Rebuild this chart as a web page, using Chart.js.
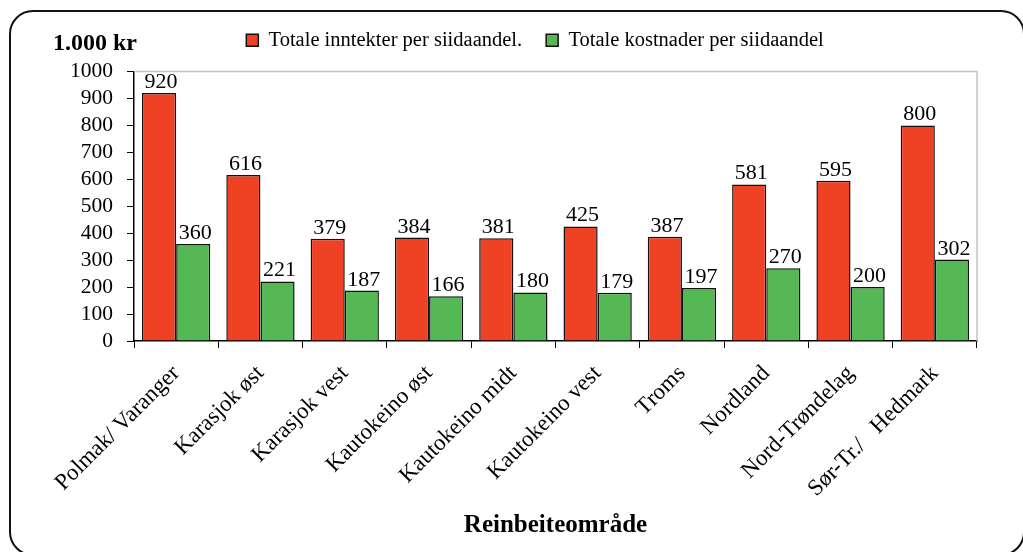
<!DOCTYPE html>
<html>
<head>
<meta charset="utf-8">
<script src="https://cdn.jsdelivr.net/npm/chart.js@4.4.1/dist/chart.umd.min.js"></script>
<style>
  html, body { margin: 0; padding: 0; background: #ffffff; overflow: hidden; }
  #wrap { position: relative; width: 1023px; height: 552px; overflow: hidden; }
  #frame { position: absolute; left: 9px; top: 10px; width: 1016px; height: 546px;
           border: 2px solid #111; border-radius: 24px; box-sizing: border-box; }
  canvas { position: absolute; left: 0; top: 0; }
</style>
</head>
<body>
<div id="wrap">
  <div id="frame"></div>
  <canvas id="c" width="1023" height="552"></canvas>
</div>
<script>
const categories = ["Polmak/ Varanger", "Karasjok øst", "Karasjok vest", "Kautokeino øst", "Kautokeino midt",
                    "Kautokeino vest", "Troms", "Nordland", "Nord-Trøndelag", "Sør-Tr./   Hedmark"];
const incomeValues = [920, 616, 379, 384, 381, 425, 387, 581, 595, 800];
const costValues = [360, 221, 187, 166, 180, 179, 197, 270, 200, 302];
const seriesNames = ["Totale inntekter per siidaandel.", "Totale kostnader per siidaandel"];
const yTickValues = [0, 100, 200, 300, 400, 500, 600, 700, 800, 900, 1000];
const yTickLabels = ["0", "100", "200", "300", "400", "500", "600", "700", "800", "900", "1000"];
const yUnitLabel = "1.000 kr";
const xAxisTitle = "Reinbeiteområde";

const FONT = "'Liberation Serif', 'Times New Roman', serif";

const plotFrame = {
  id: 'plotFrame',
  beforeDatasetsDraw(chart) {
    const {ctx, chartArea: a} = chart;
    ctx.save();
    ctx.strokeStyle = '#c4c4c4';
    ctx.lineWidth = 1.5;
    ctx.beginPath();
    ctx.moveTo(a.left, a.top);
    ctx.lineTo(a.right, a.top);
    ctx.lineTo(a.right, a.bottom);
    ctx.stroke();
    ctx.restore();
  }
};

const valueLabels = {
  id: 'valueLabels',
  afterDatasetsDraw(chart) {
    const ctx = chart.ctx;
    ctx.save();
    ctx.font = "22px " + FONT;
    ctx.fillStyle = '#000';
    ctx.textAlign = 'center';
    ctx.textBaseline = 'alphabetic';
    chart.data.datasets.forEach((ds, i) => {
      const meta = chart.getDatasetMeta(i);
      meta.data.forEach((bar, j) => {
        ctx.fillText(String(ds.data[j]), bar.x + 2, bar.y - 5);
      });
    });
    ctx.restore();
  }
};

const unitLabel = {
  id: 'unitLabel',
  afterDraw(chart) {
    const ctx = chart.ctx;
    ctx.save();
    ctx.font = "bold 24px " + FONT;
    ctx.fillStyle = '#000';
    ctx.textAlign = 'left';
    ctx.textBaseline = 'alphabetic';
    ctx.fillText(yUnitLabel, 53, 50);
    ctx.restore();
  }
};

const legendPlacer = {
  id: 'legendPlacer',
  afterLayout(chart) {
    const lg = chart.legend;
    if (!lg) return;
    const dx = 535 - (lg.left + lg.right) / 2;
    const dy = -11;
    lg.left += dx; lg.right += dx;
    lg.top += dy; lg.bottom += dy;
  }
};

new Chart(document.getElementById('c'), {
  type: 'bar',
  data: {
    labels: categories,
    datasets: [
      { label: seriesNames[0], data: incomeValues, backgroundColor: '#ef4123', borderColor: '#111', borderWidth: 1.5,
        categoryPercentage: 0.81, barPercentage: 1.0 },
      { label: seriesNames[1], data: costValues, backgroundColor: '#55b855', borderColor: '#111', borderWidth: 1.5,
        categoryPercentage: 0.81, barPercentage: 1.0 }
    ]
  },
  options: {
    responsive: false,
    animation: false,
    layout: { padding: { left: 30, right: 46, top: 17, bottom: 0 } },
    plugins: {
      legend: {
        display: true,
        position: 'top',
        labels: {
          font: { family: FONT, size: 20.5 },
          color: '#000',
          boxWidth: 12,
          boxHeight: 12,
          padding: 24
        }
      },
      tooltip: { enabled: false },
      title: { display: false }
    },
    scales: {
      x: {
        afterFit(s) { s.height = 211; },
        grid: { display: true, drawOnChartArea: false, tickLength: 7, color: '#000', offset: true },
        border: { display: true, color: '#000', width: 1.5 },
        ticks: { font: { family: FONT, size: 23 }, color: '#000', minRotation: 45, maxRotation: 45, padding: 12, autoSkip: false },
        title: { display: true, text: xAxisTitle, font: { family: FONT, size: 25, weight: 'bold' }, color: '#000',
                 padding: { top: 0, bottom: 11 } }
      },
      y: {
        min: yTickValues[0], max: yTickValues[yTickValues.length - 1],
        afterFit(s) { s.width = 104; },
        afterBuildTicks(s) { s.ticks = yTickValues.map(v => ({ value: v })); },
        grid: { display: true, drawOnChartArea: false, tickLength: 7, color: '#000' },
        border: { display: true, color: '#000', width: 1.5 },
        ticks: { autoSkip: false, font: { family: FONT, size: 21.5 }, color: '#000', padding: 14,
                 callback: (v) => yTickLabels[yTickValues.indexOf(v)] }
      }
    }
  },
  plugins: [plotFrame, valueLabels, unitLabel, legendPlacer]
});
</script>
</body>
</html>
